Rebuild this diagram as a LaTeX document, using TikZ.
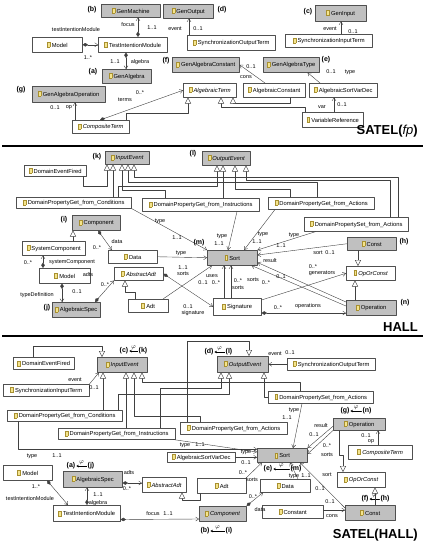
\documentclass[tikz,border=0pt]{standalone}
\usepackage{amsmath}
\usepackage{fontspec}
\setmainfont{Liberation Sans}
\usetikzlibrary{arrows.meta}
\definecolor{boxgray}{HTML}{C0C0C0}
\definecolor{boxedge}{HTML}{505050}
\definecolor{linegray}{HTML}{404040}
\definecolor{iconfill}{HTML}{F4E48C}
\definecolor{iconedge}{HTML}{A89030}
\newcommand{\cfont}{\fontsize{5.8}{6.5}\selectfont}
\newcommand{\lfont}{\fontsize{5.5}{6}\selectfont}
\newcommand{\clsicon}{{\setlength{\fboxsep}{0pt}\setlength{\fboxrule}{0.3pt}\fcolorbox{iconedge}{iconfill}{\rule{0pt}{4.5pt}\rule{2.6pt}{0pt}}}\hspace{1.6pt}}
\begin{document}
\begin{tikzpicture}[x=1pt,y=-1pt,line cap=round,line join=round,
  cls/.style={draw=boxedge,line width=.5pt,fill=white,anchor=north west,inner sep=1pt,font=\cfont},
  gcls/.style={cls,fill=boxgray},
  sz/.style 2 args={minimum width=#1pt,minimum height=#2pt},
  lbl/.style={font=\lfont,inner sep=0pt},
  tag/.style={font=\fontsize{7}{8}\selectfont\bfseries,inner sep=0pt,outer sep=1pt},
  heading/.style={font=\fontsize{13}{14}\selectfont\bfseries,anchor=east,inner sep=0pt},
  bar/.style={line width=2.4pt,line cap=butt},
  link/.style={draw=linegray,line width=.4pt},
  nav/.style={link,-{Straight Barb[length=3pt,width=4pt]}},
  own/.style={link,{Diamond[length=5.5pt,width=3.5pt]}-{Straight Barb[length=3pt,width=4pt]}},
  isa/.style={link,-{Triangle[length=6pt,width=6pt,fill=white]}},
  phi/.style={draw=black,line width=.5pt,-{Stealth[length=2.5pt,width=2.5pt]}},
  phitxt/.style={font=\fontsize{6}{6}\selectfont,inner sep=0pt,midway,above=1pt}]
  \useasboundingbox (0,0) rectangle (425,542);

  \node[gcls,sz={59}{13}] (genmachine) at (101,4) {\clsicon GenMachine};
  \node[gcls,sz={50}{14}] (genoutput) at (163,4) {\clsicon GenOutput};
  \node[gcls,sz={51}{16}] (geninput) at (315,5) {\clsicon GenInput};
  \node[cls,sz={87}{13}] (syncin1) at (285,34) {\clsicon SynchronizationInputTerm};
  \node[cls,sz={50}{15}] (model1) at (32,37) {\clsicon Model};
  \node[cls,sz={69}{15}] (tim1) at (98,37) {\clsicon TestIntentionModule};
  \node[cls,sz={88}{15}] (syncout1) at (187,35) {\clsicon SynchronizationOutputTerm};
  \node[gcls,sz={49}{14}] (genalgebra) at (102,69) {\clsicon GenAlgebra};
  \node[gcls,sz={67}{15}] (genconst) at (172,57) {\clsicon GenAlgebraConstant};
  \node[gcls,sz={56}{15}] (gentype) at (263,57) {\clsicon GenAlgebraType};
  \node[gcls,sz={73}{16}] (genop) at (32,86) {\clsicon GenAlgebraOperation};
  \node[cls,sz={53}{14}] (algterm) at (183,83) {\clsicon\textit{AlgebraicTerm}};
  \node[cls,sz={62}{14}] (algconst) at (243,83) {\clsicon AlgebraicConstant};
  \node[cls,sz={68}{14}] (sortvar1) at (309,83) {\clsicon AlgebraicSortVarDec};
  \node[cls,sz={61}{15}] (varref) at (302,112) {\clsicon VariableReference};
  \node[cls,sz={57}{13}] (compterm1) at (72,120) {\clsicon\textit{CompositeTerm}};

  \node[tag] (tb1) at (92,10) {(b)};
  \node[tag] (td1) at (222,10) {(d)};
  \node[tag] (tc1) at (308,12) {(c)};
  \node[tag] (ta1) at (93,72) {(a)};
  \node[tag] (tf1) at (166,61) {(f)};
  \node[tag] (te1) at (326,60) {(e)};
  \node[tag] (tg1) at (21,90) {(g)};

  \draw[own] (model1) -- (tim1);
  \draw[own] (138,0 |- tim1.north) -- (138,0 |- genmachine.south);
  \draw[own] (126,0 |- tim1.south) -- (126,0 |- genalgebra.north);
  \draw[nav] (189,0 |- syncout1.north) -- (189,0 |- genoutput.south);
  \draw[nav] (341,0 |- syncin1.north) -- (341,0 |- geninput.south);
  \draw[nav] (75,0 |- compterm1.north) -- (75,0 |- genop.south);
  \draw[own] (100,0 |- compterm1.north) -- (algterm.west);
  \draw[nav] (265,0 |- algconst.north) -- (genconst.east);
  \draw[nav] (320,0 |- sortvar1.north) -- ([xshift=-12pt]gentype.south east);
  \draw[nav] (334,0 |- varref.north) -- (334,0 |- sortvar1.south);
  \draw[isa] (126,0 |- compterm1.north) -- (126,113) -| (188,0 |- algterm.south);
  \draw[isa] (305,0 |- varref.north) -- (305,107) -| (221,0 |- algterm.south);
  \draw[isa] (290,0 |- algconst.south) -- (290,103) -| (233,0 |- algterm.south);

  \node[lbl] (r1) at (76,30) {testIntentionModule};
  \node[lbl] (r2) at (88,58) {1..*};
  \node[lbl] (r3) at (128,25) {focus};
  \node[lbl] (r4) at (152,28) {1..1};
  \node[lbl] (r5) at (115,62) {1..1};
  \node[lbl] (r6) at (140,62) {algebra};
  \node[lbl] (r7) at (175,29) {event};
  \node[lbl] (r8) at (198,29) {0..1};
  \node[lbl] (r9) at (330,29) {event};
  \node[lbl] (r10) at (353,32) {0..1};
  \node[lbl] (r11) at (55,108) {0..1};
  \node[lbl] (r12) at (69,108) {op};
  \node[lbl] (r13) at (140,93) {0..*};
  \node[lbl] (r14) at (125,100) {terms};
  \node[lbl] (r15) at (251,67) {0..1};
  \node[lbl] (r16) at (246,77) {cons};
  \node[lbl] (r17) at (331,72) {0..1};
  \node[lbl] (r18) at (350,72) {type};
  \node[lbl] (r19) at (322,107) {var};
  \node[lbl] (r20) at (342,105) {0..1};

  \node[heading] (t1) at (418,131) {SATEL(\textnormal{\itshape fp})};
  \draw[bar] (2,146) -- (423,146);

  \node[gcls,sz={44}{13}] (inev2) at (105,151) {\clsicon\textit{InputEvent}};
  \node[gcls,sz={48}{14}] (outev2) at (202,151) {\clsicon\textit{OutputEvent}};
  \node[cls,sz={62}{11}] (fired2) at (24,165) {\clsicon DomainEventFired};
  \node[cls,sz={115}{11}] (getcond2) at (16,197) {\clsicon DomainPropertyGet\_from\_Conditions};
  \node[cls,sz={117}{13}] (getinst2) at (142,198) {\clsicon DomainPropertyGet\_from\_Instructions};
  \node[cls,sz={106}{12}] (getact2) at (268,197) {\clsicon DomainPropertyGet\_from\_Actions};
  \node[cls,sz={104}{14}] (setact2) at (304,217) {\clsicon DomainPropertySet\_from\_Actions};
  \node[gcls,sz={48}{15}] (comp2) at (72,215) {\clsicon Component};
  \node[cls,sz={63}{14}] (syscomp2) at (22,241) {\clsicon SystemComponent};
  \node[cls,sz={49}{13}] (data2) at (108,250) {\clsicon Data};
  \node[gcls,sz={50}{15}] (sort2) at (207,250) {\clsicon Sort};
  \node[gcls,sz={49}{13}] (const2) at (347,237) {\clsicon Const};
  \node[cls,sz={49}{14}] (ooc2) at (346,266) {\clsicon\textit{OpOrConst}};
  \node[gcls,sz={50}{15}] (op2) at (346,300) {\clsicon Operation};
  \node[cls,sz={51}{15}] (model2) at (39,268) {\clsicon Model};
  \node[cls,sz={49}{13}] (absadt2) at (114,267) {\clsicon\textit{AbstractAdt}};
  \node[cls,sz={40}{13}] (adt2) at (128,299) {\clsicon Adt};
  \node[gcls,sz={48}{15}] (algspec2) at (52,302) {\clsicon AlgebraicSpec};
  \node[cls,sz={48}{17}] (sig2) at (213,298) {\clsicon Signature};

  \node[tag] (tk2) at (97,157) {(k)};
  \node[tag] (tl2) at (193,154) {(l)};
  \node[tag] (ti2) at (64,220) {(i)};
  \node[tag] (tm2) at (199,243) {(m)};
  \node[tag] (th2) at (404,242) {(h)};
  \node[tag] (tn2) at (405,303) {(n)};
  \node[tag] (tj2) at (47,308) {(j)};

  \draw[isa] (83,0 |- fired2.south) -- (83,186) -| (107,0 |- inev2.south);
  \draw[isa] (113,0 |- getcond2.north) -- (113,0 |- inev2.south);
  \draw[isa] (165,0 |- getinst2.north) -- (165,190) -| (122,0 |- inev2.south);
  \draw[isa] (317,0 |- getact2.north) -- (317,182) -| (128,0 |- inev2.south);
  \draw[isa] (398,0 |- setact2.north) -- (398,177) -| (134,0 |- inev2.south);
  \draw[isa] (118,0 |- getcond2.north) -- (118,186) -| (217,0 |- outev2.south);
  \draw[isa] (223,0 |- getinst2.north) -- (223,0 |- outev2.south);
  \draw[isa] (290,0 |- getact2.north) -- (290,189) -| (235,0 |- outev2.south);
  \draw[isa] (390,0 |- setact2.north) -- (390,180) -| (246,0 |- outev2.south);

  \draw[isa] (73,0 |- syscomp2.north) -- (73,0 |- comp2.south);
  \draw[own] (98,0 |- comp2.south) -- (112,0 |- data2.north);
  \draw[own] (43,0 |- model2.north) -- (43,0 |- syscomp2.south);
  \draw[own] (62,0 |- model2.south) -- (62,0 |- algspec2.north);
  \draw[own] (95,0 |- algspec2.north) -- (absadt2.south west);
  \draw[isa] (135,0 |- adt2.north) -- (135,292) -| (125,0 |- absadt2.south);
  \draw[own] (absadt2.east) -- (sig2.west);
  \draw[nav] (163,0 |- adt2.north) -- (212,0 |- sort2.south);
  \draw[nav] (224,0 |- sig2.north) -- (224,0 |- sort2.south);
  \draw[nav] (231,0 |- sig2.north) -- (231,0 |- sort2.south);
  \draw[nav] (getcond2.south east) -- (sort2.north west);
  \draw[nav] (data2.east) -- (sort2.west);
  \draw[nav] (237,0 |- getinst2.south) -- (228,0 |- sort2.north);
  \draw[nav] (275,0 |- getact2.south) -- (244,0 |- sort2.north);
  \draw[nav] (316,0 |- setact2.south) -- (sort2.north east);
  \draw[nav] (const2.west) -- ([yshift=-5pt]sort2.north east);
  \draw[nav] ([yshift=-2pt]op2.north west) -- ([yshift=3pt]sort2.south east);
  \draw[nav] ([yshift=-6pt]op2.north west) -- ([xshift=-6pt]sort2.south east);
  \draw[nav] ([yshift=-2pt]sig2.north east) -- (ooc2.west);
  \draw[own] (sig2.east |- 0,313) -- (op2.west |- 0,313);
  \draw[isa] (358,0 |- const2.south) -- (358,0 |- ooc2.north);
  \draw[isa] (355,0 |- op2.north) -- (355,0 |- ooc2.south);

  \node[lbl] (q1) at (117,242) {data};
  \node[lbl] (q2) at (97,248) {0..*};
  \node[lbl] (q3) at (72,262) {systemComponent};
  \node[lbl] (q4) at (28,263) {0..*};
  \node[lbl] (q5) at (37,295) {typeDefinition};
  \node[lbl] (q6) at (77,292) {0..1};
  \node[lbl] (q7) at (88,275) {adts};
  \node[lbl] (q8) at (105,285) {0..*};
  \node[lbl] (q9) at (188,307) {0..1};
  \node[lbl] (q10) at (193,313) {signature};
  \node[lbl] (q11) at (183,268) {1..1};
  \node[lbl] (q12) at (183,274) {sorts};
  \node[lbl] (q13) at (212,276) {uses};
  \node[lbl] (q14) at (203,283) {0..1};
  \node[lbl] (q15) at (216,283) {0..*};
  \node[lbl] (q16) at (238,281) {0..*};
  \node[lbl] (q17) at (238,288) {sorts};
  \node[lbl] (q18) at (160,221) {type};
  \node[lbl] (q19) at (177,238) {1..1};
  \node[lbl] (q20) at (181,253) {type};
  \node[lbl] (q21) at (222,236) {type};
  \node[lbl] (q22) at (219,244) {1..1};
  \node[lbl] (q23) at (263,234) {type};
  \node[lbl] (q24) at (257,242) {1..1};
  \node[lbl] (q25) at (294,235) {type};
  \node[lbl] (q26) at (281,246) {1..1};
  \node[lbl] (q27) at (318,253) {sort};
  \node[lbl] (q28) at (330,253) {0..1};
  \node[lbl] (q29) at (270,261) {result};
  \node[lbl] (q30) at (281,277) {0..1};
  \node[lbl] (q31) at (253,280) {sorts};
  \node[lbl] (q32) at (266,283) {0..*};
  \node[lbl] (q33) at (313,267) {0..*};
  \node[lbl] (q34) at (322,273) {generators};
  \node[lbl] (q35) at (278,308) {0..*};
  \node[lbl] (q36) at (308,306) {operations};

  \node[heading] (t2) at (418,327) {HALL};
  \draw[bar] (2,336) -- (423,336);

  \node[cls,sz={61}{12}] (fired3) at (13,357) {\clsicon DomainEventFired};
  \node[gcls,sz={50}{15}] (inev3) at (97,357) {\clsicon\textit{InputEvent}};
  \node[gcls,sz={51}{16}] (outev3) at (217,356) {\clsicon\textit{OutputEvent}};
  \node[cls,sz={86}{12}] (syncin3) at (3,384) {\clsicon SynchronizationInputTerm};
  \node[cls,sz={88}{12}] (syncout3) at (287,358) {\clsicon SynchronizationOutputTerm};
  \node[cls,sz={105}{12}] (setact3) at (268,391) {\clsicon DomainPropertySet\_from\_Actions};
  \node[cls,sz={115}{11}] (getcond3) at (7,410) {\clsicon DomainPropertyGet\_from\_Conditions};
  \node[cls,sz={117}{11}] (getinst3) at (58,428) {\clsicon DomainPropertyGet\_from\_Instructions};
  \node[cls,sz={107}{12}] (getact3) at (180,422) {\clsicon DomainPropertyGet\_from\_Actions};
  \node[gcls,sz={52}{12}] (op3) at (333,418) {\clsicon Operation};
  \node[gcls,sz={50}{14}] (sort3) at (257,448) {\clsicon Sort};
  \node[cls,sz={68}{10}] (sortvar3) at (167,452) {\clsicon AlgebraicSortVarDec};
  \node[cls,sz={64}{14}] (compterm3) at (348,445) {\clsicon\textit{CompositeTerm}};
  \node[cls,sz={48}{15}] (ooc3) at (337,472) {\clsicon\textit{OpOrConst}};
  \node[cls,sz={50}{13}] (data3) at (260,479) {\clsicon Data};
  \node[gcls,sz={50}{15}] (const3) at (345,505) {\clsicon Const};
  \node[cls,sz={61}{13}] (constant3) at (262,505) {\clsicon Constant};
  \node[cls,sz={44}{15}] (absadt3) at (142,477) {\clsicon\textit{AbstractAdt}};
  \node[cls,sz={49}{15}] (adt3) at (197,478) {\clsicon Adt};
  \node[gcls,sz={47}{15}] (comp3) at (199,506) {\clsicon\textit{Component}};
  \node[cls,sz={49}{15}] (model3) at (3,465) {\clsicon Model};
  \node[gcls,sz={59}{16}] (algspec3) at (63,471) {\clsicon AlgebraicSpec};
  \node[cls,sz={67}{16}] (tim3) at (53,505) {\clsicon TestIntentionModule};

  \node[tag] (tc3) at (124,351) {(c)};
  \node[tag] (tk3) at (143,351) {(k)};
  \draw[phi] (tk3) -- (tc3) node[phitxt] (pk3) {$\varphi$};
  \node[tag] (td3) at (209,352) {(d)};
  \node[tag] (tl3) at (229,352) {(l)};
  \draw[phi] (tl3) -- (td3) node[phitxt] (pl3) {$\varphi$};
  \node[tag] (tg3) at (345,411) {(g)};
  \node[tag] (tn3) at (367,411) {(n)};
  \draw[phi] (tn3) -- (tg3) node[phitxt] (pn3) {$\varphi$};
  \node[tag] (te3) at (268,469) {(e)};
  \node[tag] (tm3) at (296,469) {(m)};
  \draw[phi] (tm3) -- (te3) node[phitxt] (pm3) {$\varphi$};
  \node[tag] (tf3) at (365,499) {(f)};
  \node[tag] (th3) at (385,499) {(h)};
  \draw[phi] (th3) -- (tf3) node[phitxt] (ph3) {$\varphi$};
  \node[tag] (tb3) at (205,531) {(b)};
  \node[tag] (ti3) at (229,531) {(i)};
  \draw[phi] (ti3) -- (tb3) node[phitxt] (pi3) {$\varphi$};
  \node[tag] (ta3) at (71,466) {(a)};
  \node[tag] (tj3) at (91,466) {(j)};
  \draw[phi] (tj3) -- (ta3) node[phitxt] (pj3) {$\varphi$};

  \draw[isa] (33,0 |- fired3.north) -- (33,346) -| (102,0 |- inev3.north);
  \draw[nav] (syncin3.north east) -- (99,0 |- inev3.south);
  \draw[nav] (syncout3.west) -- (outev3.east);
  \draw[isa] (103,0 |- getcond3.north) -- (103,0 |- inev3.south);
  \draw[isa] (126,0 |- getinst3.north) -- (126,0 |- inev3.south);
  \draw[isa] (200,0 |- getact3.north) -- (200,416) -| (134,0 |- inev3.south);
  \draw[isa] (300,0 |- setact3.north) -- (300,382) -| (142,0 |- inev3.south);
  \draw[isa] (118,0 |- getcond3.north) -- (118,394) -| (229,0 |- outev3.south);
  \draw[isa] (160,0 |- getinst3.north) -- (160,388) -| (221,0 |- outev3.south);
  \draw[isa] (187,0 |- getact3.north) -- (187,341) -| (249,0 |- outev3.north);
  \draw[isa] (setact3.west) -| (264,0 |- outev3.south);

  \draw[nav] (18,0 |- getcond3.south) |- ([yshift=-1pt]sort3.north west);
  \draw[nav] (173,0 |- getinst3.south) -- ([yshift=-4pt]sort3.north west);
  \draw[nav] (sortvar3.east) -- (sort3.west |- sortvar3.east);
  \draw[nav] (246,0 |- adt3.north) -- (262,0 |- sort3.south);
  \draw[nav] (298,0 |- data3.north) -- (290,0 |- sort3.south);
  \draw[nav] (302,0 |- setact3.south) -- (293,0 |- sort3.north);
  \draw[nav] ([yshift=-2pt]op3.west) -- (sort3.north east);
  \draw[nav] (op3.south west) -- ([yshift=-6pt]sort3.north east);
  \draw[nav] ([yshift=-3pt]const3.north west) -- (300,0 |- sort3.south);
  \draw[nav] (constant3.east |- 0,510) -- (const3.west |- 0,510);
  \draw[nav] (378,0 |- compterm3.north) -- (378,0 |- op3.south);
  \draw[isa] (339,0 |- op3.south) -- (339,455) -| (343,0 |- ooc3.north);
  \draw[isa] (375,0 |- const3.north) -- (375,0 |- ooc3.south);
  \draw[own] ([yshift=2pt]tim3.south east) -- (comp3.west |- 0,519);
  \draw[own] (comp3.north east) -- (263,0 |- data3.south);
  \draw[own] (47,0 |- model3.south) -- (68,0 |- tim3.north);
  \draw[own] (87,0 |- tim3.north) -- (87,0 |- algspec3.south);
  \draw[own] (algspec3.east |- 0,483) -- (absadt3.west |- 0,483);
  \draw[isa] (200,0 |- adt3.south) -- (200,500) -| (182,0 |- absadt3.south);

  \node[lbl] (s1) at (75,380) {event};
  \node[lbl] (s2) at (94,388) {0..1};
  \node[lbl] (s3) at (275,354) {event};
  \node[lbl] (s4) at (290,353) {0..1};
  \node[lbl] (s5) at (32,456) {type};
  \node[lbl] (s6) at (57,456) {1..1};
  \node[lbl] (s7) at (185,445) {type};
  \node[lbl] (s8) at (200,445) {1..1};
  \node[lbl] (s9) at (246,452) {type};
  \node[lbl] (s10) at (246,463) {0..1};
  \node[lbl] (s11) at (243,473) {0..*};
  \node[lbl] (s12) at (252,480) {sorts};
  \node[lbl] (s13) at (294,476) {type};
  \node[lbl] (s14) at (306,476) {1..1};
  \node[lbl] (s15) at (294,410) {type};
  \node[lbl] (s16) at (287,418) {1..1};
  \node[lbl] (s17) at (321,426) {result};
  \node[lbl] (s18) at (314,435) {0..1};
  \node[lbl] (s19) at (327,446) {0..*};
  \node[lbl] (s20) at (327,455) {sorts};
  \node[lbl] (s21) at (327,475) {sort};
  \node[lbl] (s22) at (320,489) {0..1};
  \node[lbl] (s23) at (330,502) {0..1};
  \node[lbl] (s24) at (332,516) {cons};
  \node[lbl] (s25) at (366,436) {0..1};
  \node[lbl] (s26) at (371,442) {op};
  \node[lbl] (s27) at (153,514) {focus};
  \node[lbl] (s28) at (168,514) {1..1};
  \node[lbl] (s29) at (260,510) {data};
  \node[lbl] (s30) at (253,497) {0..*};
  \node[lbl] (s31) at (36,487) {1..*};
  \node[lbl] (s32) at (30,499) {testIntentionModule};
  \node[lbl] (s33) at (98,495) {1..1};
  \node[lbl] (s34) at (98,503) {algebra};
  \node[lbl] (s35) at (129,473) {adts};
  \node[lbl] (s36) at (127,489) {0..*};

  \node[heading] (t3) at (418,535) {SATEL(HALL)};
\end{tikzpicture}
\end{document}
